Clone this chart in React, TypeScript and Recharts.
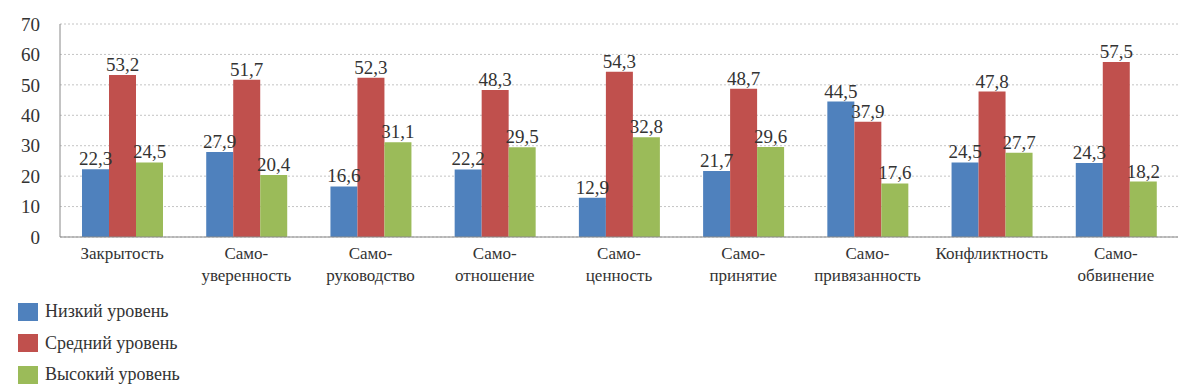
import { BarChart, Bar, XAxis, YAxis, CartesianGrid, LabelList } from "recharts";

const categories = [
  "Закрытость",
  "Само-\nуверенность",
  "Само-\nруководство",
  "Само-\nотношение",
  "Само-\nценность",
  "Само-\nпринятие",
  "Само-\nпривязанность",
  "Конфликтность",
  "Само-\nобвинение",
];
const lowLevel = [22.3, 27.9, 16.6, 22.2, 12.9, 21.7, 44.5, 24.5, 24.3];
const midLevel = [53.2, 51.7, 52.3, 48.3, 54.3, 48.7, 37.9, 47.8, 57.5];
const highLevel = [24.5, 20.4, 31.1, 29.5, 32.8, 29.6, 17.6, 27.7, 18.2];
const yTicks = [0, 10, 20, 30, 40, 50, 60, 70];

const series = [
  { key: "low", name: "Низкий уровень", color: "#4F81BD" },
  { key: "mid", name: "Средний уровень", color: "#C0504D" },
  { key: "high", name: "Высокий уровень", color: "#9BBB59" },
];

const data = categories.map((c, i) => ({
  name: c,
  low: lowLevel[i],
  mid: midLevel[i],
  high: highLevel[i],
}));

const FONT = "Liberation Serif, DejaVu Serif, serif";
const fmt = (v: any) => String(v).replace(".", ",");

function CatTick(props: any) {
  const { x, y, payload } = props;
  const lines = String(payload.value).split("\n");
  return (
    <text x={x} y={y} textAnchor="middle" fill="#333" style={{ fontSize: 17, fontFamily: FONT }}>
      {lines.map((l, i) => (
        <tspan key={i} x={x} dy={i === 0 ? 14 : 22}>
          {l}
        </tspan>
      ))}
    </text>
  );
}

export default function App() {
  return (
    <div style={{ position: "absolute", left: 0, top: 0, width: 1200, height: 389, background: "#fff" }}>
      <BarChart
        width={1200}
        height={290}
        data={data}
        margin={{ top: 24, right: 22, bottom: 0, left: 0 }}
        barSize={27}
        barGap={0}
        style={{ fontFamily: FONT }}
      >
        <CartesianGrid vertical={false} stroke="#c4c4c4" strokeDasharray="2 2" />
        <XAxis
          dataKey="name"
          interval={0}
          height={53}
          tick={<CatTick />}
          tickLine={false}
          axisLine={{ stroke: "#888" }}
        />
        <YAxis
          domain={[0, 70]}
          ticks={yTicks}
          width={60}
          tickSize={0}
          tickMargin={20}
          axisLine={{ stroke: "#888" }}
          tick={{ fill: "#333", fontSize: 19, fontFamily: FONT }}
        />
        {series.map((s) => (
          <Bar key={s.key} dataKey={s.key} name={s.name} fill={s.color} isAnimationActive={false}>
            <LabelList
              dataKey={s.key}
              position="top"
              offset={4}
              formatter={fmt}
              style={{ fill: "#333", fontSize: 19, fontFamily: FONT }}
            />
          </Bar>
        ))}
      </BarChart>
      <div style={{ position: "absolute", left: 18, top: 296, fontFamily: FONT, fontSize: 18, color: "#333" }}>
        {series.map((s) => (
          <div key={s.key} style={{ display: "flex", alignItems: "center", height: 31.5 }}>
            <span style={{ display: "inline-block", width: 20, height: 18, background: s.color, marginRight: 7 }} />
            <span>{s.name}</span>
          </div>
        ))}
      </div>
    </div>
  );
}
